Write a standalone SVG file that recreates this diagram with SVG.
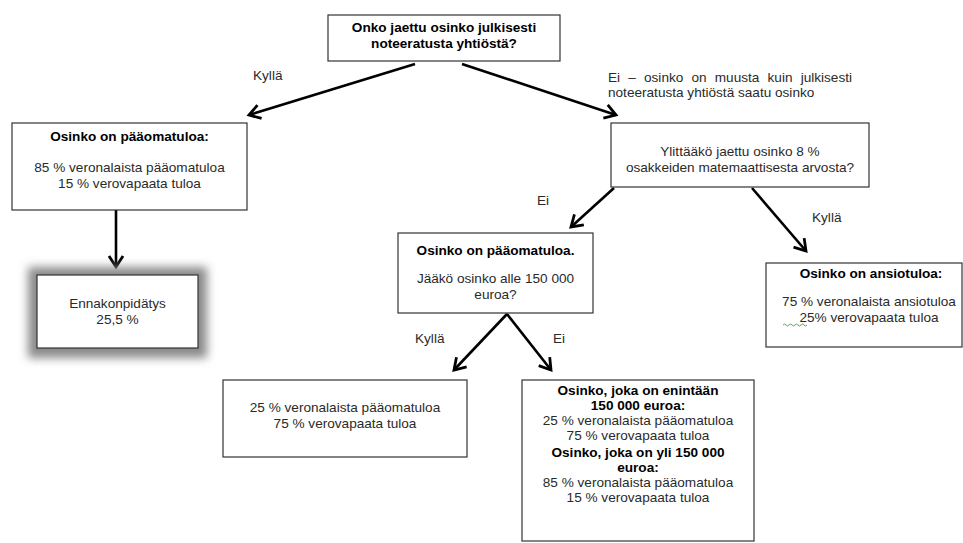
<svg xmlns="http://www.w3.org/2000/svg" width="963" height="543" viewBox="0 0 963 543">
<defs>
<style>
.box{fill:#fff;stroke:#333;stroke-width:1.2}
text{font-family:"Liberation Sans",Arial,sans-serif;font-size:13.6px;fill:#2a2a2a}
.b{font-weight:bold;fill:#000}
.c{text-anchor:middle}
.con{stroke:#000;stroke-width:2.6;fill:none;marker-end:url(#ah)}
</style>
<marker id="ah" markerUnits="userSpaceOnUse" markerWidth="20" markerHeight="20" viewBox="-14 -10 20 20" refX="0" refY="0" orient="auto">
<path d="M-11,-7 L0,0 L-11,7" fill="none" stroke="#000" stroke-width="2.8" stroke-linejoin="miter"/>
</marker>
<filter id="blur" x="-30%" y="-30%" width="160%" height="160%"><feGaussianBlur stdDeviation="5"/></filter>
</defs>
<rect width="963" height="543" fill="#fff"/>

<g id="connectors">
<line class="con" x1="415" y1="64" x2="249" y2="115"/>
<line class="con" x1="462" y1="64" x2="616" y2="115"/>
<line class="con" x1="614" y1="188" x2="571" y2="227"/>
<line class="con" x1="752" y1="188" x2="806" y2="251"/>
<line class="con" x1="116" y1="210" x2="116" y2="267"/>
<line class="con" x1="507" y1="314" x2="454" y2="370"/>
<line class="con" x1="507" y1="314" x2="551" y2="370"/>
<text x="253" y="80">Kyllä</text>
<text x="608" y="82" word-spacing="4.4">Ei – osinko on muusta kuin julkisesti</text>
<text x="608" y="97">noteeratusta yhtiöstä saatu osinko</text>
<text x="537" y="205">Ei</text>
<text x="812" y="222">Kyllä</text>
<text x="415" y="343">Kyllä</text>
<text x="553" y="343">Ei</text>
</g>

<g id="q1">
<rect class="box" x="328" y="15" width="232" height="46"/>
<text class="b c" x="444" y="32">Onko jaettu osinko julkisesti</text>
<text class="b c" x="444" y="48">noteeratusta yhtiöstä?</text>
</g>

<g id="paaomatulo1">
<rect class="box" x="12" y="123" width="235" height="87"/>
<text class="b c" x="129.5" y="141">Osinko on pääomatuloa:</text>
<text class="c" x="129.5" y="172">85 % veronalaista pääomatuloa</text>
<text class="c" x="129.5" y="188">15 % verovapaata tuloa</text>
</g>

<g id="ennakonpidatys">
<rect x="28" y="267" width="179" height="91" fill="#8a8a8a" filter="url(#blur)"/>
<rect class="box" x="37" y="275" width="161" height="73"/>
<text class="c" x="117.5" y="308">Ennakonpidätys</text>
<text class="c" x="117.5" y="324">25,5 %</text>
</g>

<g id="q2">
<rect class="box" x="611" y="123" width="258" height="64"/>
<text class="c" x="740" y="156">Ylittääkö jaettu osinko 8 %</text>
<text class="c" x="740" y="172">osakkeiden matemaattisesta arvosta?</text>
</g>

<g id="q3">
<rect class="box" x="398" y="233" width="195" height="80"/>
<text class="b c" x="495.5" y="255">Osinko on pääomatuloa.</text>
<text class="c" x="495.5" y="283">Jääkö osinko alle 150 000</text>
<text class="c" x="495.5" y="299">euroa?</text>
</g>

<g id="ansiotulo">
<rect class="box" x="766" y="263" width="196" height="84"/>
<text class="b c" x="871" y="278">Osinko on ansiotuloa:</text>
<text class="c" x="869" y="306">75 % veronalaista ansiotuloa</text>
<text class="c" x="869" y="322">25% verovapaata tuloa</text>
<path d="M783,325 q1.5,-2 3,0 t3,0 t3,0 t3,0 t3,0 t3,0 t3,0 t3,0" fill="none" stroke="#4a9a4a" stroke-width="0.9"/>
</g>

<g id="alle150">
<rect class="box" x="223" y="380" width="244" height="77"/>
<text class="c" x="345" y="412">25 % veronalaista pääomatuloa</text>
<text class="c" x="345" y="428">75 % verovapaata tuloa</text>
</g>

<g id="yli150">
<rect class="box" x="522" y="380" width="232" height="161"/>
<text class="b c" x="638" y="395">Osinko, joka on enintään</text>
<text class="b c" x="638" y="410">150 000 euroa:</text>
<text class="c" x="638" y="425">25 % veronalaista pääomatuloa</text>
<text class="c" x="638" y="440">75 % verovapaata tuloa</text>
<text class="b c" x="638" y="457">Osinko, joka on yli 150 000</text>
<text class="b c" x="638" y="472">euroa:</text>
<text class="c" x="638" y="487">85 % veronalaista pääomatuloa</text>
<text class="c" x="638" y="502">15 % verovapaata tuloa</text>
</g>
</svg>
